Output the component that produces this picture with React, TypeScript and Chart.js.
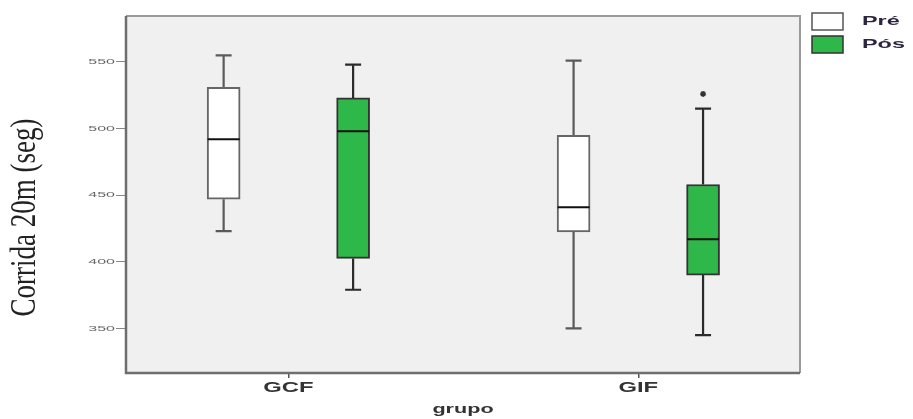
import React, { useEffect, useRef } from "react";
import { Chart, registerables } from "chart.js";

Chart.register(...registerables);

// ---- data ----
const groups = ["GCF", "GIF"];
const seriesNames = ["Pré", "Pós"];
const preMin = [423, 350];
const preQ1 = [447, 422.5];
const preMedian = [492, 441];
const preQ3 = [531, 495];
const preMax = [555, 551];
const posMin = [379, 345];
const posQ1 = [402.5, 390];
const posMedian = [498, 417];
const posQ3 = [523, 458];
const posMax = [548, 515];
const posOutlierGroup = [1];
const posOutlierValue = [526];
const yTickValues = [350, 400, 450, 500, 550];
const yTitle = "Corrida 20m (seg)";
const xTitle = "grupo";

const OFFSET = 0.185;
const preColor = "#ffffff";
const posColor = "#2fb84a";

function stretchedText(ctx: CanvasRenderingContext2D, text: string, x: number, y: number, sx: number, align: CanvasTextAlign, font: string, color: string) {
  ctx.save();
  ctx.translate(x, y);
  ctx.scale(sx, 1);
  ctx.font = font;
  ctx.fillStyle = color;
  ctx.textAlign = align;
  ctx.textBaseline = "middle";
  ctx.fillText(text, 0, 0);
  ctx.restore();
}

const extras = {
  id: "boxExtras",
  beforeDraw(chart: any) {
    const { ctx, chartArea: a } = chart;
    ctx.save();
    ctx.fillStyle = "#ffffff";
    ctx.fillRect(0, 0, chart.width, chart.height);
    ctx.fillStyle = "#f0f0f0";
    ctx.fillRect(a.left, a.top, a.right - a.left, a.bottom - a.top);
    ctx.restore();
  },
  beforeDatasetsDraw(chart: any) {
    const { ctx } = chart;
    const xs = chart.scales.x;
    const ys = chart.scales.y;
    const sets = [
      { off: -OFFSET, lo: preMin, q1: preQ1, q3: preQ3, hi: preMax, col: "#5a5a5a" },
      { off: OFFSET, lo: posMin, q1: posQ1, q3: posQ3, hi: posMax, col: "#2a2a2a" },
    ];
    ctx.save();
    ctx.lineWidth = 2.2;
    for (const s of sets) {
      ctx.strokeStyle = s.col;
      groups.forEach((_, i) => {
        const cx = xs.getPixelForValue(i + 1 + s.off);
        const pLo = ys.getPixelForValue(s.lo[i]);
        const pHi = ys.getPixelForValue(s.hi[i]);
        const pQ1 = ys.getPixelForValue(s.q1[i]);
        const pQ3 = ys.getPixelForValue(s.q3[i]);
        ctx.beginPath();
        ctx.moveTo(cx, pQ1); ctx.lineTo(cx, pLo);
        ctx.moveTo(cx, pQ3); ctx.lineTo(cx, pHi);
        ctx.moveTo(cx - 8, pLo); ctx.lineTo(cx + 8, pLo);
        ctx.moveTo(cx - 8, pHi); ctx.lineTo(cx + 8, pHi);
        ctx.stroke();
      });
    }
    ctx.restore();
  },
  afterDatasetsDraw(chart: any) {
    const { ctx } = chart;
    const xs = chart.scales.x;
    const ys = chart.scales.y;
    ctx.save();
    ctx.strokeStyle = "#111";
    ctx.lineWidth = 2;
    const meds = [
      { off: -OFFSET, m: preMedian },
      { off: OFFSET, m: posMedian },
    ];
    for (const s of meds) {
      groups.forEach((_, i) => {
        const cx = xs.getPixelForValue(i + 1 + s.off);
        const py = ys.getPixelForValue(s.m[i]);
        ctx.beginPath();
        ctx.moveTo(cx - 16, py);
        ctx.lineTo(cx + 16, py);
        ctx.stroke();
      });
    }
    ctx.restore();
  },
  afterDraw(chart: any) {
    const { ctx, chartArea: a } = chart;
    const xs = chart.scales.x;
    const ys = chart.scales.y;
    ctx.save();
    // top / right frame
    ctx.strokeStyle = "#9a9a9a";
    ctx.lineWidth = 2;
    ctx.beginPath();
    ctx.moveTo(a.left, a.top);
    ctx.lineTo(a.right, a.top);
    ctx.lineTo(a.right, a.bottom);
    ctx.stroke();
    // left / bottom axis lines
    ctx.strokeStyle = "#6e6e6e";
    ctx.lineWidth = 2.5;
    ctx.beginPath();
    ctx.moveTo(a.left, a.top);
    ctx.lineTo(a.left, a.bottom);
    ctx.lineTo(a.right, a.bottom);
    ctx.stroke();
    ctx.restore();

    // y tick labels
    yTickValues.forEach((v) => {
      const py = ys.getPixelForValue(v);
      stretchedText(ctx, String(v), a.left - 11, py, 2.0, "right", "8px 'Liberation Sans', Arial", "#666");
    });
    // x tick labels
    groups.forEach((g, i) => {
      const px = xs.getPixelForValue(i + 1);
      stretchedText(ctx, g, px, a.bottom + 15, 1.7, "center", "bold 14px 'Liberation Sans', Arial", "#333");
    });
    // x title
    stretchedText(ctx, xTitle, (a.left + a.right) / 2, a.bottom + 37, 1.8, "center", "bold 12px 'Liberation Sans', Arial", "#333");
    // y title (rotated, stretched horizontally)
    ctx.save();
    ctx.translate(25.5, 217.5);
    ctx.scale(1.35, 1);
    ctx.rotate(-Math.PI / 2);
    ctx.font = "27px 'Liberation Serif', 'Times New Roman', serif";
    ctx.fillStyle = "#222";
    ctx.textAlign = "center";
    ctx.textBaseline = "middle";
    ctx.fillText(yTitle, 0, 0);
    ctx.restore();

    // legend
    const fills = [preColor, posColor];
    seriesNames.forEach((name, i) => {
      const top = 13 + i * 23;
      ctx.save();
      ctx.fillStyle = fills[i];
      ctx.fillRect(812, top, 31, 17);
      ctx.strokeStyle = i === 0 ? "#555" : "#333";
      ctx.lineWidth = 1.5;
      ctx.strokeRect(812, top, 31, 17);
      ctx.restore();
      stretchedText(ctx, name, 862, top + 8.5, 1.8, "left", "bold 13px 'Liberation Sans', Arial", "#2d2540");
    });
  },
};

export default function App() {
  const ref = useRef<HTMLCanvasElement | null>(null);
  useEffect(() => {
    if (!ref.current) return;
    const chart = new Chart(ref.current, {
      type: "bar",
      data: {
        datasets: [
          {
            label: seriesNames[0],
            data: groups.map((_, i) => ({ x: i + 1 - OFFSET, y: [preQ1[i], preQ3[i]] })) as any,
            backgroundColor: preColor,
            borderColor: "#666",
            borderWidth: 2,
            borderSkipped: false,
            barThickness: 33,
            grouped: false,
          } as any,
          {
            label: seriesNames[1],
            data: groups.map((_, i) => ({ x: i + 1 + OFFSET, y: [posQ1[i], posQ3[i]] })) as any,
            backgroundColor: posColor,
            borderColor: "#333",
            borderWidth: 2,
            borderSkipped: false,
            barThickness: 33,
            grouped: false,
          } as any,
          {
            type: "scatter",
            label: "outliers",
            data: posOutlierGroup.map((g, i) => ({ x: g + 1 + OFFSET, y: posOutlierValue[i] })),
            pointStyle: "star",
            radius: 3,
            borderColor: "#333",
            backgroundColor: "#333",
            borderWidth: 1.5,
          } as any,
        ],
      },
      options: {
        responsive: false,
        animation: false,
        layout: { padding: { left: 0, top: 16, right: 113, bottom: 0 } },
        plugins: { legend: { display: false }, tooltip: { enabled: false } },
        scales: {
          x: {
            type: "linear",
            min: 0.536,
            max: 2.462,
            offset: false,
            bounds: "ticks",
            afterBuildTicks: (s: any) => {
              s.ticks = groups.map((_, i) => ({ value: i + 1 }));
            },
            afterFit: (s: any) => {
              s.height = 46;
            },
            ticks: { display: false },
            grid: { offset: false, drawOnChartArea: false, drawTicks: true, tickLength: 5, color: "#555", lineWidth: 1.5 },
            border: { display: false },
          },
          y: {
            type: "linear",
            min: 316.5,
            max: 584.5,
            afterBuildTicks: (s: any) => {
              s.ticks = yTickValues.map((v) => ({ value: v }));
            },
            afterFit: (s: any) => {
              s.width = 126;
            },
            ticks: { display: false },
            grid: { drawOnChartArea: false, drawTicks: true, tickLength: 10, color: "#888", lineWidth: 1 },
            border: { display: false },
          },
        },
      } as any,
      plugins: [extras],
    });
    return () => chart.destroy();
  }, []);
  return (
    <div style={{ position: "fixed", left: 0, top: 0, width: 913, height: 419, background: "#fff" }}>
      <canvas ref={ref} width={913} height={419} style={{ width: 913, height: 419, display: "block" }} />
    </div>
  );
}
